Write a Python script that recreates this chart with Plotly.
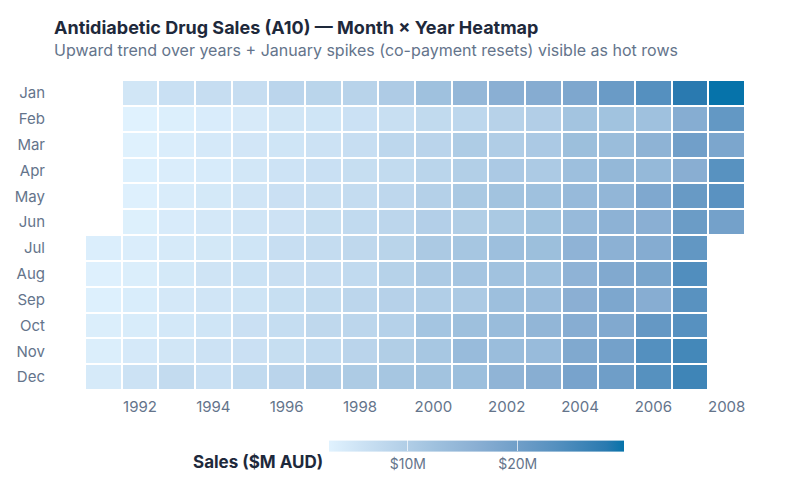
import plotly.graph_objects as go

months = ["Jan", "Feb", "Mar", "Apr", "May", "Jun", "Jul", "Aug", "Sep", "Oct", "Nov", "Dec"]
years = list(range(1991, 2009))

sales_1991 = [None, None, None, None, None, None, 3.526591, 3.180891, 3.252221, 3.611003, 3.565869, 4.306371]
sales_1992 = [5.088335, 2.814520, 2.985811, 3.204780, 3.127578, 3.270523, 3.737851, 3.558776, 3.777202, 3.924490, 4.386531, 5.810549]
sales_1993 = [6.192068, 3.450857, 3.772307, 3.734303, 3.905399, 4.049687, 4.315566, 4.562185, 4.608662, 4.667851, 5.093841, 7.179962]
sales_1994 = [6.731473, 3.841278, 4.394076, 4.075341, 4.540645, 4.645615, 4.752607, 5.350605, 5.204455, 5.301651, 5.773742, 6.204593]
sales_1995 = [6.749484, 4.216067, 4.949349, 4.823045, 5.194754, 5.170787, 5.256742, 5.855277, 5.490729, 6.115293, 6.088473, 7.416598]
sales_1996 = [8.329452, 5.069570, 5.262942, 5.597717, 6.110296, 5.689780, 6.486849, 6.300069, 6.467038, 6.828757, 6.649239, 8.606441]
sales_1997 = [8.524471, 5.277732, 5.714115, 6.214357, 6.411757, 6.667169, 7.050740, 6.704439, 7.250382, 7.819209, 7.398827, 10.096725]
sales_1998 = [8.798155, 5.918691, 6.534956, 6.675548, 7.064470, 7.383666, 7.813477, 7.431596, 8.275117, 8.260145, 8.596573, 10.558939]
sales_1999 = [10.391992, 6.421001, 8.062619, 7.297739, 7.936916, 8.165323, 8.717420, 9.070964, 9.177113, 9.251887, 9.933136, 11.532974]
sales_2000 = [12.511462, 7.457199, 8.591191, 8.474000, 9.386803, 9.560399, 10.834295, 10.643751, 9.908162, 11.710041, 11.340151, 12.079132]
sales_2001 = [14.497581, 8.049275, 10.312891, 9.753358, 10.850382, 9.961719, 11.443601, 11.659239, 10.647060, 12.652134, 13.674466, 12.965735]
sales_2002 = [16.300269, 9.053485, 10.002449, 10.788750, 12.106705, 10.954101, 12.844566, 12.196500, 12.854748, 13.542004, 13.287640, 15.134918]
sales_2003 = [16.828350, 9.800215, 10.816994, 10.654223, 12.512323, 12.161210, 12.998046, 12.517276, 13.268658, 14.733622, 13.669382, 16.503966]
sales_2004 = [18.003768, 11.938030, 12.997900, 12.882645, 13.943447, 13.989472, 15.339097, 15.370764, 16.142005, 16.685754, 17.636728, 18.869325]
sales_2005 = [20.778723, 12.154552, 13.402392, 14.459239, 14.795102, 15.705248, 15.829550, 17.554701, 18.100864, 17.496668, 19.347265, 20.031291]
sales_2006 = [23.486694, 12.536987, 15.467018, 14.233539, 17.783058, 16.291602, 16.980282, 18.612189, 16.623343, 21.430241, 23.575517, 23.334206]
sales_2007 = [28.038383, 16.763869, 19.792754, 16.427305, 21.000742, 20.681002, 21.834890, 23.930204, 22.930357, 23.263340, 25.250030, 25.806090]
sales_2008 = [29.665356, 21.654285, 18.264945, 23.107677, 22.912510, 19.431740, None, None, None, None, None, None]

by_year = [sales_1991, sales_1992, sales_1993, sales_1994, sales_1995, sales_1996,
           sales_1997, sales_1998, sales_1999, sales_2000, sales_2001, sales_2002,
           sales_2003, sales_2004, sales_2005, sales_2006, sales_2007, sales_2008]

z = [[by_year[j][i] for j in range(len(years))] for i in range(len(months))]

colorbar_ticks = [10, 20]
colorbar_ticktext = ["$10M", "$20M"]

FONT = "Inter, Noto Sans, sans-serif"

colorscale = [
    [0.0, "#e0f2fe"], [0.11, "#cce2f4"], [0.27, "#b0cde6"], [0.36, "#9fc1de"],
    [0.5, "#8aafd3"], [0.67, "#6a9bc6"], [0.77, "#5590bf"], [0.94, "#2a7ab0"],
    [1.0, "#0673aa"],
]

fig = go.Figure(go.Heatmap(
    z=z, x=years, y=months,
    colorscale=colorscale,
    xgap=2, ygap=2,
    hoverongaps=False,
    colorbar=dict(
        orientation="h",
        x=0.593, xanchor="center",
        y=-0.232, yanchor="middle",
        lenmode="pixels", len=315,
        thickness=11,
        outlinewidth=0,
        tickvals=colorbar_ticks, ticktext=colorbar_ticktext,
        ticks="inside", ticklen=11, tickcolor="rgba(255,255,255,0.7)",
        tickfont=dict(family=FONT, size=14, color="#64748b"),
    ),
))

fig.update_layout(
    width=800, height=500,
    margin=dict(l=77, r=63, t=72, b=118),
    plot_bgcolor="white", paper_bgcolor="white",
    font=dict(family=FONT, color="#64748b"),
    xaxis=dict(dtick=2, tick0=1992, showgrid=False, zeroline=False, ticks="",
               ticklabelstandoff=6, automargin=False,
               tickfont=dict(size=15, color="#64748b")),
    yaxis=dict(autorange="reversed", showgrid=False, zeroline=False, ticks="",
               ticklabelstandoff=39, automargin=False,
               tickfont=dict(size=15, color="#64748b")),
    annotations=[
        dict(text="<b>Antidiabetic Drug Sales (A10) — Month × Year Heatmap</b>",
             xref="paper", yref="paper", x=-0.05, y=1.168, xanchor="left", yanchor="middle",
             showarrow=False, font=dict(family=FONT, size=18, color="#1e293b")),
        dict(text="Upward trend over years + January spikes (co-payment resets) visible as hot rows",
             xref="paper", yref="paper", x=-0.05, y=1.097, xanchor="left", yanchor="middle",
             showarrow=False, font=dict(family=FONT, size=16, color="#64748b")),
        dict(text="<b>Sales ($M AUD)</b>",
             xref="paper", yref="paper", x=(325 - 85) / 660, y=(390 - 461.5) / 310,
             xanchor="right", yanchor="middle",
             showarrow=False, font=dict(family=FONT, size=17, color="#1e293b")),
    ],
)

fig.write_html("out.html")
